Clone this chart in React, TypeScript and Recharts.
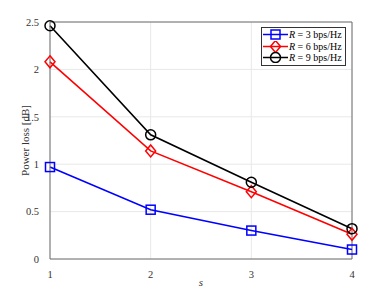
import { CartesianGrid, Line, LineChart, ReferenceLine, XAxis, YAxis } from "recharts";

const S_VALUES = [1, 2, 3, 4];
const LOSS_R3 = [0.97, 0.52, 0.3, 0.1];
const LOSS_R6 = [2.08, 1.14, 0.71, 0.26];
const LOSS_R9 = [2.46, 1.31, 0.81, 0.32];
const X_TICKS = [1, 2, 3, 4];
const Y_TICKS = [0, 0.5, 1, 1.5, 2, 2.5];

const SERIES = [
  { key: "r3", rate: 3, color: "#0000ff", marker: "square" },
  { key: "r6", rate: 6, color: "#ff0000", marker: "diamond" },
  { key: "r9", rate: 9, color: "#000000", marker: "circle" },
];

const data = S_VALUES.map((s, i) => ({
  s,
  r3: LOSS_R3[i],
  r6: LOSS_R6[i],
  r9: LOSS_R9[i],
}));

const FONT = "'Liberation Serif', 'Times New Roman', serif";
const AXIS = "#6e6e6e";
const GRID = "#e8e8e8";

function Marker({ kind, cx, cy, color }: { kind: string; cx: number; cy: number; color: string }) {
  if (kind === "square")
    return <rect x={cx - 4.5} y={cy - 4.5} width={9} height={9} fill="none" stroke={color} strokeWidth={1.5} />;
  if (kind === "diamond")
    return (
      <path
        d={`M${cx},${cy - 6} L${cx + 5},${cy} L${cx},${cy + 6} L${cx - 5},${cy} Z`}
        fill="none"
        stroke={color}
        strokeWidth={1.5}
      />
    );
  return <circle cx={cx} cy={cy} r={5} fill="none" stroke={color} strokeWidth={1.5} />;
}

function LegendBox() {
  return (
    <div
      style={{
        position: "absolute",
        left: 261,
        top: 27,
        border: "1px solid #333",
        background: "#fff",
        padding: "1px 3px 1px 1px",
        fontFamily: FONT,
        fontSize: 10,
        lineHeight: "11.5px",
        color: "#000",
      }}
    >
      {SERIES.map((s) => (
        <div key={s.key} style={{ display: "flex", alignItems: "center", whiteSpace: "nowrap" }}>
          <svg width={25} height={11}>
            <line x1={0} y1={5.5} x2={25} y2={5.5} stroke={s.color} strokeWidth={1.5} />
            <Marker kind={s.marker} cx={12.5} cy={5.5} color={s.color} />
          </svg>
          <span style={{ marginLeft: 1 }}>
            <i>R</i> = {s.rate} bps/Hz
          </span>
        </div>
      ))}
    </div>
  );
}

export default function App() {
  return (
    <div style={{ position: "absolute", left: 0, top: 0, width: 389, height: 292, background: "#fff" }}>
      <LineChart width={389} height={292} data={data} margin={{ top: 22, right: 37, left: 20, bottom: 3 }}>
        <CartesianGrid stroke={GRID} strokeWidth={1} />
        <XAxis
          dataKey="s"
          type="number"
          domain={[1, 4]}
          ticks={X_TICKS}
          height={30}
          tick={{ fill: "#333", fontSize: 10.5, fontFamily: FONT }}
          tickLine={false}
          tickMargin={6}
          axisLine={{ stroke: AXIS }}
          label={{
            content: (p: any) => (
              <text
                x={p.viewBox.x + p.viewBox.width / 2}
                y={p.viewBox.y + 27}
                textAnchor="middle"
                fontFamily={FONT}
                fontStyle="italic"
                fontSize={11}
                fill="#333"
              >
                s
              </text>
            ),
          }}
        />
        <YAxis
          type="number"
          domain={[0, 2.5]}
          ticks={Y_TICKS}
          width={30}
          tick={{ fill: "#333", fontSize: 10.5, fontFamily: FONT }}
          tickLine={false}
          tickMargin={5}
          axisLine={{ stroke: AXIS }}
          label={{
            content: (p: any) => {
              const x = p.viewBox.x + 5;
              const y = p.viewBox.y + p.viewBox.height / 2;
              return (
                <text
                  x={x}
                  y={y}
                  transform={`rotate(-90 ${x} ${y})`}
                  textAnchor="middle"
                  dominantBaseline="central"
                  fontFamily={FONT}
                  fontSize={11}
                  fill="#333"
                >
                  Power loss [dB]
                </text>
              );
            },
          }}
        />
        <ReferenceLine y={2.5} stroke={AXIS} />
        <ReferenceLine x={4} stroke={AXIS} />
        {SERIES.map((s) => (
          <Line
            key={s.key}
            dataKey={s.key}
            type="linear"
            stroke={s.color}
            strokeWidth={1.6}
            isAnimationActive={false}
            dot={(p: any) => <Marker key={`${s.key}-${p.index}`} kind={s.marker} cx={p.cx} cy={p.cy} color={s.color} />}
            activeDot={false}
          />
        ))}
      </LineChart>
      <LegendBox />
    </div>
  );
}
